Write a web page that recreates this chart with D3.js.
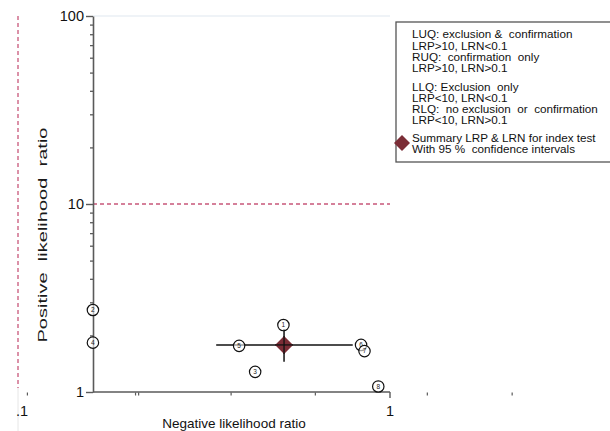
<!DOCTYPE html>
<html>
<head>
<meta charset="utf-8">
<script src="https://cdn.jsdelivr.net/npm/d3@7"></script>
<style>
  html, body { margin: 0; padding: 0; background: #fff; }
  svg { display: block; }
  text { font-family: "Liberation Sans", Arial, sans-serif; }
</style>
</head>
<body>
<svg id="chart" width="610" height="431"></svg>
<script>
// Study-level likelihood ratios (LR-, LR+)
const studyIds = [1, 2, 3, 4, 5, 6, 7, 8];
const studyLRN = [0.517, 0.159, 0.434, 0.159, 0.393, 0.836, 0.854, 0.930];
const studyLRP = [2.27, 2.73, 1.28, 1.83, 1.76, 1.78, 1.65, 1.07];

// Pooled estimate with 95% confidence intervals
const summaryLRN = 0.519, summaryLRNLow = 0.341, summaryLRNHigh = 0.794;
const summaryLRP = 1.78, summaryLRPLow = 1.45, summaryLRPHigh = 2.16;

// Axis ticks
const yMajorTicks = [1, 10, 100];
const yMinorTicks = [2, 3, 4, 5, 6, 7, 8, 9, 20, 30, 40, 50, 60, 70, 80, 90];
const xLabelTicks = [0.1, 1];
const xLabelText = [".1", "1"];
const xMinorTicks = [0.106, 0.207, 0.211, 0.374, 0.63, 1.26, 2.13];

// Reference thresholds
const lrpThreshold = 10;
const lrnThreshold = 0.1;

// Legend text blocks
const legendLines = [
  "LUQ: exclusion &  confirmation",
  "LRP>10, LRN<0.1",
  "RUQ:  confirmation  only",
  "LRP>10, LRN>0.1",
  "LLQ: Exclusion  only",
  "LRP<10, LRN<0.1",
  "RLQ:  no exclusion  or  confirmation",
  "LRP<10, LRN>0.1",
  "Summary LRP & LRN for index test",
  "With 95 %  confidence intervals"
];
const legendBaselines = [38, 49.5, 60.5, 71.5, 91, 102, 113, 124, 142, 153];

const svg = d3.select("#chart");
const axisColor = "#5a5a5a";
const refColor = "#c8577a";
const diamondColor = "#7b2d36";

const x = d3.scaleLog().domain([0.1, 1]).range([18, 390]);
const y = d3.scaleLog().domain([1, 100]).range([392, 16]);
const yAxisX = 93;

// faint frame line along the top of the plot region
svg.append("line")
  .attr("x1", yAxisX).attr("x2", x(1))
  .attr("y1", y(100)).attr("y2", y(100))
  .attr("stroke", "#dfe7ef").attr("stroke-width", 1.2);

// reference lines at LR+ = 10 and LR- = 0.1
svg.append("line")
  .attr("x1", yAxisX).attr("x2", x(1))
  .attr("y1", y(lrpThreshold)).attr("y2", y(lrpThreshold))
  .attr("stroke", refColor).attr("stroke-width", 1.3)
  .attr("stroke-dasharray", "4,3");
svg.append("line")
  .attr("x1", x(lrnThreshold)).attr("x2", x(lrnThreshold))
  .attr("y1", y(100)).attr("y2", y(1) - 4)
  .attr("stroke", refColor).attr("stroke-width", 1.3)
  .attr("stroke-dasharray", "4,3");
svg.append("line")
  .attr("x1", x(lrnThreshold)).attr("x2", x(lrnThreshold))
  .attr("y1", y(1) - 4).attr("y2", 431)
  .attr("stroke", "#e6e6e6").attr("stroke-width", 1);

// y axis: major ticks with labels
const yAxis = d3.axisLeft(y)
  .tickValues(yMajorTicks)
  .tickFormat(d3.format("d"))
  .tickSize(7).tickSizeOuter(0).tickPadding(2);
const gy = svg.append("g").attr("transform", `translate(${yAxisX},0)`).call(yAxis);
gy.select(".domain").attr("stroke", axisColor).attr("stroke-width", 1.6);
gy.selectAll(".tick line").attr("stroke", axisColor).attr("stroke-width", 1.4);
gy.selectAll(".tick text")
  .attr("fill", "#111").style("font-size", "14.5px")
  .style("font-family", "'Liberation Sans', Arial, sans-serif");

// y axis minor ticks
const yMinor = d3.axisLeft(y).tickValues(yMinorTicks).tickFormat("").tickSize(3).tickSizeOuter(0);
const gym = svg.append("g").attr("transform", `translate(${yAxisX},0)`).call(yMinor);
gym.select(".domain").remove();
gym.selectAll(".tick line").attr("stroke", axisColor).attr("stroke-width", 1.3);

// x axis line
svg.append("line")
  .attr("x1", yAxisX).attr("x2", x(1))
  .attr("y1", y(1)).attr("y2", y(1))
  .attr("stroke", axisColor).attr("stroke-width", 1.6);
svg.append("line")
  .attr("x1", x(1)).attr("x2", x(1))
  .attr("y1", y(1)).attr("y2", y(1) + 6)
  .attr("stroke", axisColor).attr("stroke-width", 1.4);

// x minor tick marks
svg.append("g").selectAll("line").data(xMinorTicks).join("line")
  .attr("x1", d => x(d)).attr("x2", d => x(d))
  .attr("y1", y(1) + 0.5).attr("y2", y(1) + 3.5)
  .attr("stroke", axisColor).attr("stroke-width", 1.2);

// x tick labels
svg.append("g").selectAll("text").data(xLabelTicks).join("text")
  .attr("x", (d, i) => x(d) + (i === 0 ? 4 : 0))
  .attr("y", 416)
  .attr("text-anchor", "middle")
  .attr("fill", "#111")
  .style("font-size", "14.5px")
  .text((d, i) => xLabelText[i]);

// axis titles
svg.append("text")
  .attr("transform", "translate(47,235) rotate(-90)")
  .attr("text-anchor", "middle")
  .attr("textLength", 215)
  .attr("lengthAdjust", "spacingAndGlyphs")
  .attr("fill", "#1a1a1a")
  .style("font-size", "13px")
  .style("white-space", "pre")
  .attr("xml:space", "preserve")
  .text("Positive  likelihood  ratio");
svg.append("text")
  .attr("x", 234).attr("y", 428)
  .attr("text-anchor", "middle")
  .attr("fill", "#111")
  .style("font-size", "13.5px")
  .text("Negative likelihood ratio");

// summary confidence intervals
svg.append("line")
  .attr("x1", x(summaryLRNLow)).attr("x2", x(summaryLRNHigh))
  .attr("y1", y(summaryLRP)).attr("y2", y(summaryLRP))
  .attr("stroke", "#111").attr("stroke-width", 1.5);
svg.append("line")
  .attr("x1", x(summaryLRN)).attr("x2", x(summaryLRN))
  .attr("y1", y(summaryLRPHigh)).attr("y2", y(summaryLRPLow))
  .attr("stroke", "#111").attr("stroke-width", 1.5);

// summary diamond
svg.append("path")
  .attr("d", "M0,-9L9,0L0,9L-9,0Z")
  .attr("transform", `translate(${x(summaryLRN)},${y(summaryLRP)})`)
  .attr("fill", diamondColor);
// cross lines over the diamond
svg.append("line")
  .attr("x1", x(summaryLRN) - 9).attr("x2", x(summaryLRN) + 9)
  .attr("y1", y(summaryLRP)).attr("y2", y(summaryLRP))
  .attr("stroke", "#111").attr("stroke-width", 1.3);
svg.append("line")
  .attr("x1", x(summaryLRN)).attr("x2", x(summaryLRN))
  .attr("y1", y(summaryLRP) - 9).attr("y2", y(summaryLRP) + 9)
  .attr("stroke", "#111").attr("stroke-width", 1.3);

// study markers
const studies = studyIds.map((id, i) => ({ id, lrn: studyLRN[i], lrp: studyLRP[i] }));
const g = svg.append("g").selectAll("g").data(studies).join("g")
  .attr("transform", d => `translate(${x(d.lrn)},${y(d.lrp)})`);
g.append("circle").attr("r", 5.7)
  .attr("fill", "#fff").attr("fill-opacity", 0.6)
  .attr("stroke", "#111").attr("stroke-width", 1.2);
g.append("text")
  .attr("text-anchor", "middle").attr("dy", "0.35em")
  .attr("fill", "#222")
  .style("font-size", "6.5px")
  .text(d => d.id);

// legend
const lg = svg.append("g");
lg.append("rect")
  .attr("x", 396).attr("y", 22).attr("width", 240).attr("height", 140)
  .attr("fill", "#fff").attr("stroke", "#555").attr("stroke-width", 1.3);
lg.append("path")
  .attr("d", "M0,-8L8,0L0,8L-8,0Z")
  .attr("transform", "translate(402,143)")
  .attr("fill", diamondColor);
lg.selectAll("text.leg").data(legendLines).join("text")
  .attr("class", "leg")
  .attr("x", 412)
  .attr("y", (d, i) => legendBaselines[i])
  .attr("fill", "#111")
  .style("font-size", "11.7px")
  .style("white-space", "pre")
  .attr("xml:space", "preserve")
  .text(d => d);
</script>
</body>
</html>
